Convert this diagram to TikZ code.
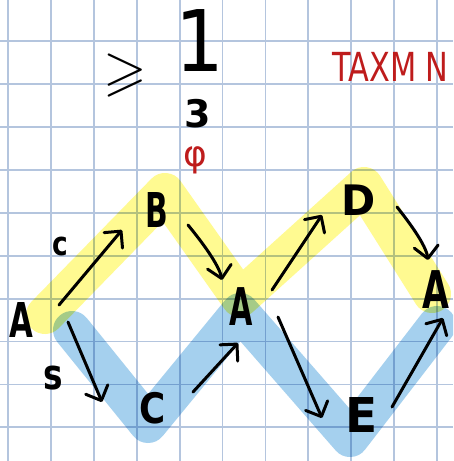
\documentclass[tikz,border=0pt]{standalone}
\usepackage{fontspec}
\usepackage{graphicx}
\usepackage{amssymb}
\usetikzlibrary{arrows.meta,calc}
\newfontfamily\hand{DejaVu Sans}
\definecolor{gridc}{RGB}{180,197,222}
\definecolor{hlyellow}{RGB}{255,250,145}
\definecolor{hlblue}{RGB}{165,208,238}
\definecolor{penred}{RGB}{190,28,28}
\newcommand\sq[2][0.72]{\scalebox{#1}[1]{#2}}
\newcommand\hfs[1]{\hand\fontsize{#1}{#1}\selectfont}
\newcommand\hfb[1]{\hand\bfseries\fontsize{#1}{#1}\selectfont}
\begin{document}
\begin{tikzpicture}[x=1pt,y=-1pt,
  lbl/.style={inner sep=0pt, font=\hfb{48}},
  arr/.style={line width=3pt, line cap=round, line join=round, -{Straight Barb[length=12pt,width=24pt,round]}},
  band/.style={line width=38pt, line cap=round, line join=round},
  gridline/.style={gridc, line width=1.8pt}
]
\useasboundingbox (0,0) rectangle (453,461);
\clip (0,0) rectangle (453,461);
\fill[white] (0,0) rectangle (453,461);
% grid
\foreach \k in {0,...,10} {
  \draw[gridline] (8+42.9*\k,0) -- (8+42.9*\k,461);
  \draw[gridline] (0,41.2+42.9*\k) -- (453,41.2+42.9*\k);
}
% highlighter bands
\begin{scope}[blend mode=multiply]
  \draw[band, hlyellow] (45,315) -- (165,192) -- (240,298) -- (364,186) -- (432,294);
  \draw[band, hlblue] (72,330) -- (148,424) -- (240,312) -- (350,438) -- (437,325);
\end{scope}
% top formula
\node[inner sep=0pt, font=\fontsize{56}{56}\selectfont] (geq) at (125,75) {$\geqslant$};
\node[inner sep=0pt, font=\hfs{85}] (one) at (200,41) {\sq[0.9]{1}};
\node[inner sep=0pt, font=\hfb{38}] (three) at (198,114) {\sq[1.0]{3}};
\node[inner sep=0pt, font=\hfs{36}, text=penred] (phi) at (195,160) {φ};
\node[inner sep=0pt, font=\hfs{40}, text=penred, anchor=west] (title) at (332,67) {\sq[0.76]{TAXM N}};
% letters
\node[lbl] (A1) at (21,320) {\sq[0.64]{A}};
\node[lbl] (B) at (157,210) {\sq[0.62]{B}};
\node[lbl, font=\hfb{42}] (C) at (153,408) {\sq[0.85]{C}};
\node[lbl, font=\hfb{42}] (D) at (359,200) {\sq[0.98]{D}};
\node[lbl, font=\hfb{48}] (E) at (362,415) {\sq[0.98]{E}};
\node[lbl, font=\hfb{52}] (A2) at (241,307) {\sq[0.58]{A}};
\node[lbl, font=\hfb{52}] (A3) at (436,290) {\sq[0.67]{A}};
\node[lbl, font=\hfb{33}] (c) at (60,246) {\sq[0.8]{c}};
\node[lbl, font=\hfb{42}] (s) at (53,378) {\sq[0.78]{s}};
% arrows
\draw[arr] ($(A1)+(38,-15)$) -- ($(B)+(-35,20)$);
\draw[arr] ($(B)+(31,15)$) .. controls ($(B)+(45,32)$) and ($(A2)+(-22,-42)$) .. ($(A2)+(-19,-27)$);
\draw[arr] ($(A1)+(47,2)$) -- ($(C)+(-51,-6)$);
\draw[arr] ($(C)+(40,-16)$) -- ($(A2)+(-3,36)$);
\draw[arr] ($(A2)+(31,-17)$) -- ($(D)+(-37,15)$);
\draw[arr] ($(D)+(38,7)$) .. controls ($(D)+(50,22)$) and ($(A3)+(-10,-45)$) .. ($(A3)+(-8,-30)$);
\draw[arr] ($(A2)+(37,10)$) -- ($(E)+(-40,3)$);
\draw[arr] ($(E)+(30,-8)$) -- ($(A3)+(7,28)$);
\end{tikzpicture}
\end{document}
